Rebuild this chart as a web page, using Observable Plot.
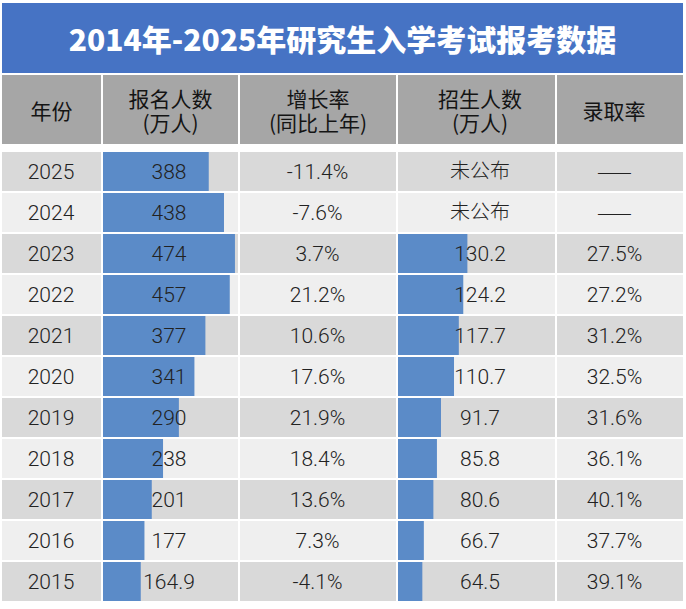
<!DOCTYPE html>
<html>
<head>
<meta charset="utf-8">
<script src="https://cdn.jsdelivr.net/npm/d3@7"></script>
<script src="https://cdn.jsdelivr.net/npm/@observablehq/plot@0.6"></script>
<style>
  html, body { margin: 0; padding: 0; background: #fff; }
  #page { position: relative; width: 686px; height: 609px; overflow: hidden; }
  #title {
    position: absolute; left: 2px; top: 3px; width: 681px; height: 70px;
    background: #4673c4; color: #fff; text-align: center;
    font: 900 30px "Noto Sans CJK SC", sans-serif; line-height: 70px;
  }
  #grid {
    position: absolute; left: 2px; top: 75px;
    display: grid; grid-template-columns: 99px 135px 156px 157px 126px;
    column-gap: 2px; row-gap: 2.5px;
  }
  .head {
    height: 69px; background: #a6a6a6; display: flex; flex-direction: column;
    justify-content: center; align-items: center; color: #141414;
    font: 400 21px "Noto Sans CJK SC", sans-serif; line-height: 24px;
  }
  .cell svg { display: block; }
</style>
</head>
<body>
<div id="page">
  <div id="title"></div>
  <div id="grid"></div>
</div>
<script>
// ---- data ----
const chartTitle = "2014年-2025年研究生入学考试报考数据";
const headerLabels = [["年份"], ["报名人数", "(万人)"], ["增长率", "(同比上年)"], ["招生人数", "(万人)"], ["录取率"]];
const years = [2025, 2024, 2023, 2022, 2021, 2020, 2019, 2018, 2017, 2016, 2015];
const registrations = [388, 438, 474, 457, 377, 341, 290, 238, 201, 177, 164.9];
const growthRates = [-11.4, -7.6, 3.7, 21.2, 10.6, 17.6, 21.9, 18.4, 13.6, 7.3, -4.1];
const admissions = [null, null, 130.2, 124.2, 117.7, 110.7, 91.7, 85.8, 80.6, 66.7, 64.5];
const admissionRates = [null, null, 27.5, 27.2, 31.2, 32.5, 31.6, 36.1, 40.1, 37.7, 39.1];
const notPublished = "未公布";
const noValue = "——";

// ---- style ----
const colWidths = [99, 135, 156, 157, 126];
const headShift = [0, 0, 0, 7, -12];
const stripeDark = "#d9d9d9", stripeLight = "#efefef";
const barColor = "#5b8bc8";
const textColor = "#222222";
const regDomain = [41, 484];
const admDomain = [29, 258];
const bodyH = 462, bandRange = [0, 459.6];
const numFont = "Roboto, 'Noto Sans CJK SC', sans-serif";
const cjkFont = "'Noto Sans CJK SC', sans-serif";

const rows = years.map((year, i) => ({
  year,
  reg: registrations[i],
  growth: growthRates[i],
  adm: admissions[i],
  rate: admissionRates[i],
  stripe: i % 2 === 0 ? stripeDark : stripeLight
}));

document.getElementById("title").textContent = chartTitle;

function columnPlot(width, xDomain, marks) {
  return Plot.plot({
    width, height: bodyH,
    marginTop: 0, marginRight: 0, marginBottom: 0, marginLeft: 0,
    style: { background: "transparent", fontFamily: numFont, overflow: "visible" },
    x: { domain: xDomain, range: [0, width], axis: null },
    y: { type: "band", domain: years, range: bandRange, paddingInner: 0.057, paddingOuter: 0, axis: null },
    color: { type: "identity" },
    marks: [
      Plot.barX(rows, { y: "year", x1: xDomain[0], x2: xDomain[1], fill: "stripe" }),
      ...marks
    ]
  });
}

const unit = [0, 1];
const txt = { y: "year", fontSize: 21, fontWeight: 300, fill: textColor, fontFamily: numFont };

const plots = [
  columnPlot(colWidths[0], unit, [
    Plot.text(rows, { ...txt, x: 0.5, text: d => String(d.year), dx: -1 })
  ]),
  columnPlot(colWidths[1], regDomain, [
    Plot.barX(rows, { y: "year", x1: regDomain[0], x2: "reg", fill: barColor }),
    Plot.text(rows, { ...txt, x: (regDomain[0] + regDomain[1]) / 2, text: d => String(d.reg), dx: -2 })
  ]),
  columnPlot(colWidths[2], unit, [
    Plot.text(rows, { ...txt, x: 0.5, text: d => d.growth.toFixed(1) + "%", dx: -1 })
  ]),
  columnPlot(colWidths[3], admDomain, [
    Plot.barX(rows.filter(d => d.adm != null), { y: "year", x1: admDomain[0], x2: "adm", fill: barColor }),
    Plot.text(rows.filter(d => d.adm != null), { ...txt, x: (admDomain[0] + admDomain[1]) / 2, text: d => String(d.adm), dx: 3 }),
    Plot.text(rows.filter(d => d.adm == null), { ...txt, fontWeight: 300, fontSize: 20, fontFamily: cjkFont, x: (admDomain[0] + admDomain[1]) / 2, text: () => notPublished, dx: 3 })
  ]),
  columnPlot(colWidths[4], unit, [
    Plot.text(rows.filter(d => d.rate != null), { ...txt, x: 0.5, text: d => d.rate.toFixed(1) + "%", dx: -6 }),
    Plot.text(rows.filter(d => d.rate == null), { ...txt, fontWeight: 300, fontFamily: cjkFont, x: 0.5, text: () => noValue, dx: -6 })
  ])
];

const grid = document.getElementById("grid");
headerLabels.forEach((lines, i) => {
  const h = document.createElement("div");
  h.className = "head";
  h.style.width = colWidths[i] + "px";
  h.style.boxSizing = "border-box";
  if (headShift[i] > 0) h.style.paddingLeft = headShift[i] + "px";
  if (headShift[i] < 0) h.style.paddingRight = (-headShift[i]) + "px";
  lines.forEach(l => { const s = document.createElement("div"); s.textContent = l; h.appendChild(s); });
  grid.appendChild(h);
});
plots.forEach(p => {
  const c = document.createElement("div");
  c.className = "cell";
  c.appendChild(p);
  grid.appendChild(c);
});
</script>
</body>
</html>
